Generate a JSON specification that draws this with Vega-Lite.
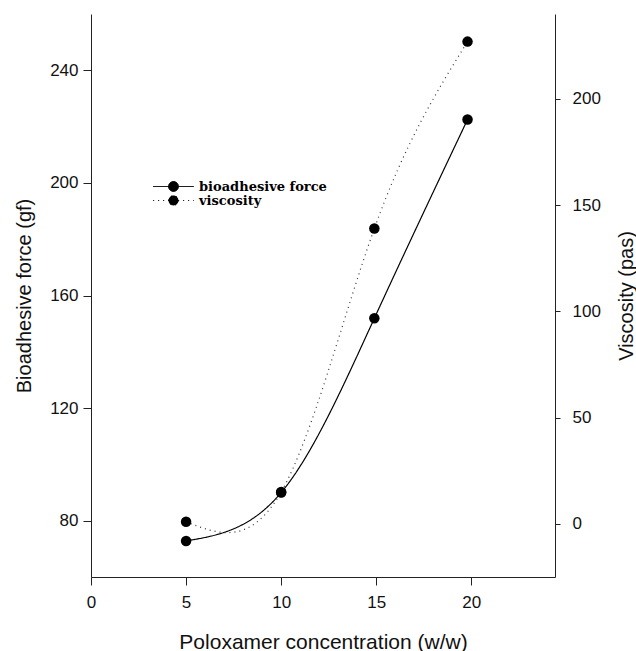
{
  "$schema": "https://vega.github.io/schema/vega-lite/v6.json",
  "autosize": {"type": "none"},
  "padding": {"left": 91, "top": 14, "right": 81, "bottom": 74},
  "width": 464,
  "height": 563,
  "background": "white",
  "config": {
    "view": {"stroke": null},
    "axis": {
      "grid": false,
      "domainColor": "#222222",
      "tickColor": "#222222",
      "labelColor": "#111111",
      "titleColor": "#111111",
      "labelFont": "Liberation Sans",
      "titleFont": "Liberation Sans",
      "labelFontSize": 17,
      "titleFontSize": 20,
      "titleFontWeight": "normal",
      "labelFlush": false
    }
  },
  "data": {
    "values": [
      {"conc": 5, "series": "bioadhesive force", "value": 72.8},
      {"conc": 10, "series": "bioadhesive force", "value": 90},
      {"conc": 14.9, "series": "bioadhesive force", "value": 151.9},
      {"conc": 19.8, "series": "bioadhesive force", "value": 222.5},
      {"conc": 5, "series": "viscosity", "value": 1},
      {"conc": 10, "series": "viscosity", "value": 15},
      {"conc": 14.9, "series": "viscosity", "value": 139},
      {"conc": 19.8, "series": "viscosity", "value": 227}
    ]
  },
  "encoding": {
    "x": {
      "field": "conc",
      "type": "quantitative",
      "scale": {"domain": [0, 24.4], "nice": false, "zero": false},
      "axis": {
        "values": [0, 5, 10, 15, 20],
        "title": "Poloxamer concentration (w/w)",
        "tickSize": 8,
        "labelPadding": 9,
        "titleFontSize": 21,
        "titlePadding": 21
      }
    }
  },
  "layer": [
    {
      "transform": [{"filter": "datum.series === 'bioadhesive force'"}],
      "encoding": {
        "y": {
          "field": "value",
          "type": "quantitative",
          "scale": {"domain": [60, 260], "nice": false, "zero": false},
          "axis": {
            "orient": "left",
            "values": [80, 120, 160, 200, 240],
            "title": "Bioadhesive force (gf)",
            "tickSize": 8,
            "labelPadding": 5,
            "titlePadding": 15
          }
        }
      },
      "layer": [
        {
          "mark": {"type": "line", "interpolate": "natural", "color": "black", "strokeWidth": 1.2},
          "encoding": {
            "strokeDash": {
              "field": "series",
              "type": "nominal",
              "scale": {"domain": ["bioadhesive force", "viscosity"], "range": [[1, 0], [1, 4]]},
              "legend": {
                "title": null,
                "orient": "none",
                "legendX": 76,
                "legendY": 166,
                "padding": 0,
                "symbolType": "M-3.7,0L3.7,0M-0.9,0A0.9,0.9,0,1,1,0.9,0A0.9,0.9,0,1,1,-0.9,0Z",
                "symbolSize": 121,
                "symbolStrokeWidth": 1,
                "symbolStrokeColor": "black",
                "symbolFillColor": "black",
                "labelFont": "DejaVu Serif",
                "labelFontWeight": "bold",
                "labelFontSize": 13,
                "labelColor": "black",
                "labelOffset": 19,
                "rowPadding": -3,
                "encode": {"symbols": {"update": {"fill": {"value": "black"}, "stroke": {"value": "black"}, "opacity": {"value": 1}}}}
              }
            }
          }
        },
        {"mark": {"type": "point", "filled": true, "color": "black", "size": 110, "opacity": 1}}
      ]
    },
    {
      "transform": [{"filter": "datum.series === 'viscosity'"}],
      "encoding": {
        "y": {
          "field": "value",
          "type": "quantitative",
          "scale": {"domain": [-25, 240], "nice": false, "zero": false},
          "axis": {
            "orient": "right",
            "values": [0, 50, 100, 150, 200],
            "title": "Viscosity (pas)",
            "titleAngle": -90,
            "tickSize": 5,
            "labelPadding": 12,
            "titlePadding": 36
          }
        }
      },
      "layer": [
        {
          "mark": {"type": "line", "interpolate": "natural", "color": "#333333", "strokeWidth": 1.2},
          "encoding": {
            "strokeDash": {
              "field": "series",
              "type": "nominal",
              "scale": {"domain": ["bioadhesive force", "viscosity"], "range": [[1, 0], [1, 4]]}
            }
          }
        },
        {"mark": {"type": "point", "filled": true, "color": "black", "size": 110, "opacity": 1}}
      ]
    }
  ],
  "resolve": {"scale": {"y": "independent"}}
}
